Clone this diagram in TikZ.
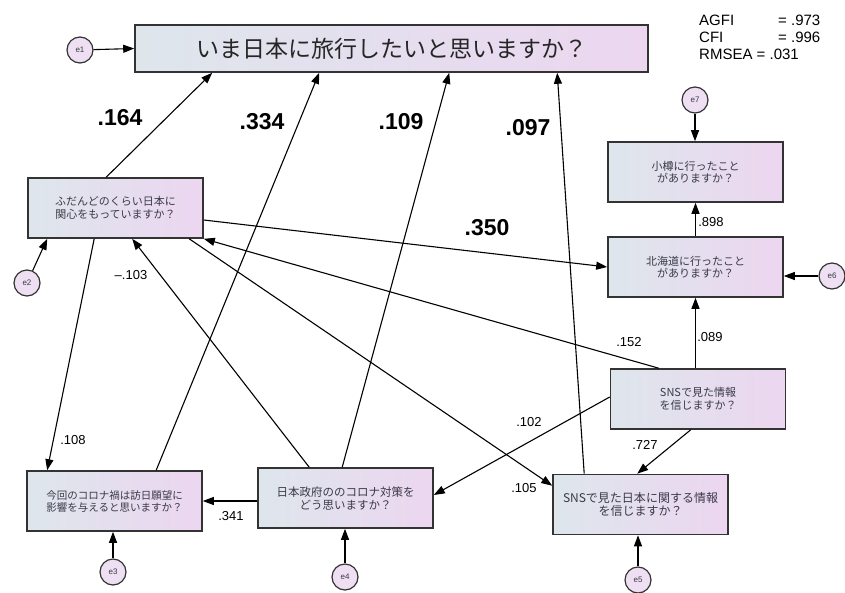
\documentclass[tikz,border=0pt]{standalone}
\usepackage{fontspec}
\setmainfont{Liberation Sans}
\newfontfamily\jp{Noto Sans CJK JP}
\usetikzlibrary{arrows.meta,calc}
\definecolor{boxL}{HTML}{DEE6EC}
\definecolor{boxR}{HTML}{ECD6F0}
\definecolor{errfill}{HTML}{EEDFF3}
\definecolor{edge}{HTML}{333333}
\definecolor{txt}{HTML}{3A3A48}
\begin{document}
\begin{tikzpicture}[x=1pt,y=-1pt,
  var/.style={draw=edge,line width=1.6pt,left color=boxL,right color=boxR,
    minimum width=175pt,minimum height=60pt,align=center,text=txt,
    font=\jp\fontsize{11}{12.5}\selectfont,inner sep=2pt},
  err/.style={circle,draw=edge,line width=1.2pt,fill=errfill,minimum size=26pt,
    inner sep=0pt,font=\fontsize{8}{8}\selectfont,text=txt},
  path/.style={line width=1.1pt,-{Triangle[length=11pt,width=8pt]}},
  big/.style={font=\bfseries\fontsize{23}{23}\selectfont},
  small/.style={font=\fontsize{13}{13}\selectfont}]
\useasboundingbox (0,0) rectangle (845,592);
\fill[white] (0,0) rectangle (845,592);

% boxes
\node[var,minimum width=513pt,minimum height=47pt,font=\jp\fontsize{23}{25}\selectfont,text=black!85] (top) at (391.5,48.5) {いま日本に旅行したいと思いますか？};
\node[var] (interest) at (115.5,208) {ふだんどのくらい日本に\\関心をもっていますか？};
\node[var] (otaru) at (695.5,172) {小樽に行ったこと\\がありますか？};
\node[var] (hokkaido) at (695.5,267) {北海道に行ったこと\\がありますか？};
\node[var] (snsinfo) at (698,399) {SNSで見た情報\\を信じますか？};
\node[var,font=\jp\fontsize{12}{12.5}\selectfont] (snsjp) at (640.5,504.5) {SNSで見た日本に関する情報\\を信じますか？};
\node[var,font=\jp\fontsize{10.5}{12}\selectfont] (corona) at (114.5,501) {今回のコロナ禍は訪日願望に\\影響を与えると思いますか？};
\node[var,font=\jp\fontsize{11.5}{13}\selectfont] (gov) at (345.5,498) {日本政府ののコロナ対策を\\どう思いますか？};

% error terms
\node[err] (e1) at (80,50) {e1};
\node[err] (e2) at (27,283) {e2};
\node[err] (e3) at (113,572) {e3};
\node[err] (e4) at (345,577) {e4};
\node[err] (e5) at (638,580) {e5};
\node[err] (e6) at (832,276) {e6};
\node[err] (e7) at (695,100) {e7};

% fit indices
\node[anchor=west,font=\fontsize{15}{15}\selectfont,inner sep=0pt] (agfi) at (699,20) {AGFI};
\node[anchor=west,font=\fontsize{15}{15}\selectfont,inner sep=0pt] (agfiv) at (778,20) {= .973};
\node[anchor=west,font=\fontsize{15}{15}\selectfont,inner sep=0pt] (cfi) at (699,37) {CFI};
\node[anchor=west,font=\fontsize{15}{15}\selectfont,inner sep=0pt] (cfiv) at (778,37) {= .996};
\node[anchor=west,font=\fontsize{15}{15}\selectfont,inner sep=0pt] (rmsea) at (699,54) {RMSEA = .031};

% error arrows
\draw[path] (e1) -- (top.west);
\draw[path] (e2) -- ([xshift=20pt]interest.south west);
\draw[path] (e3) -- (e3 |- corona.south);
\draw[path] (e4) -- (e4 |- gov.south);
\draw[path] (e5) -- (e5 |- snsjp.south);
\draw[path] (e6) -- (e6 -| hokkaido.east);
\draw[path] (e7) -- (e7 |- otaru.north);

% structural paths
\draw[path] ([xshift=79pt]interest.north west) -- ([xshift=78pt]top.south west);
\draw[path] ([xshift=130pt]corona.north west) -- ([xshift=185pt]top.south west);
\draw[path] ([xshift=85pt]gov.north west) -- ([xshift=315pt]top.south west);
\draw[path] ([xshift=32pt]snsjp.north west) -- ([xshift=423pt]top.south west);
\draw[path] ([yshift=-12pt]interest.east) -- (hokkaido.west);
\draw[path] ([xshift=49pt]snsinfo.north west) -- (interest.south east);
\draw[path] (snsinfo.north -| hokkaido.south) -- (hokkaido.south);
\draw[path] (hokkaido.north) -- (otaru.south);
\draw[path] ([xshift=67pt]interest.south west) -- ([xshift=21pt]corona.north west);
\draw[path] ([xshift=52pt]gov.north west) -- ([xshift=105pt]interest.south west);
\draw[path] ([xshift=162pt]interest.south west) -- ([yshift=-12pt]snsjp.north west);
\draw[path] ([yshift=2pt]snsinfo.west) -- ([yshift=3pt]gov.east);
\draw[path] ([xshift=81pt]snsinfo.south west) -- ([xshift=85pt]snsjp.north west);
\draw[path] (gov.west |- corona.east) -- (corona.east);

% coefficients
\node[big] (c164) at (120,118) {.164};
\node[big] (c334) at (262,122) {.334};
\node[big] (c109) at (401,122) {.109};
\node[big] (c097) at (528,128) {.097};
\node[big] (c350) at (487,228) {.350};
\node[small] (c898) at (711,222) {.898};
\node[small] (c103) at (131,275) {--.103};
\node[small] (c108) at (73,440) {.108};
\node[small] (c341) at (231,516) {.341};
\node[small] (c152) at (629,342) {.152};
\node[small] (c089) at (710,337) {.089};
\node[small] (c102) at (529,422) {.102};
\node[small] (c727) at (645,445) {.727};
\node[small] (c105) at (524,488) {.105};
\end{tikzpicture}
\end{document}
